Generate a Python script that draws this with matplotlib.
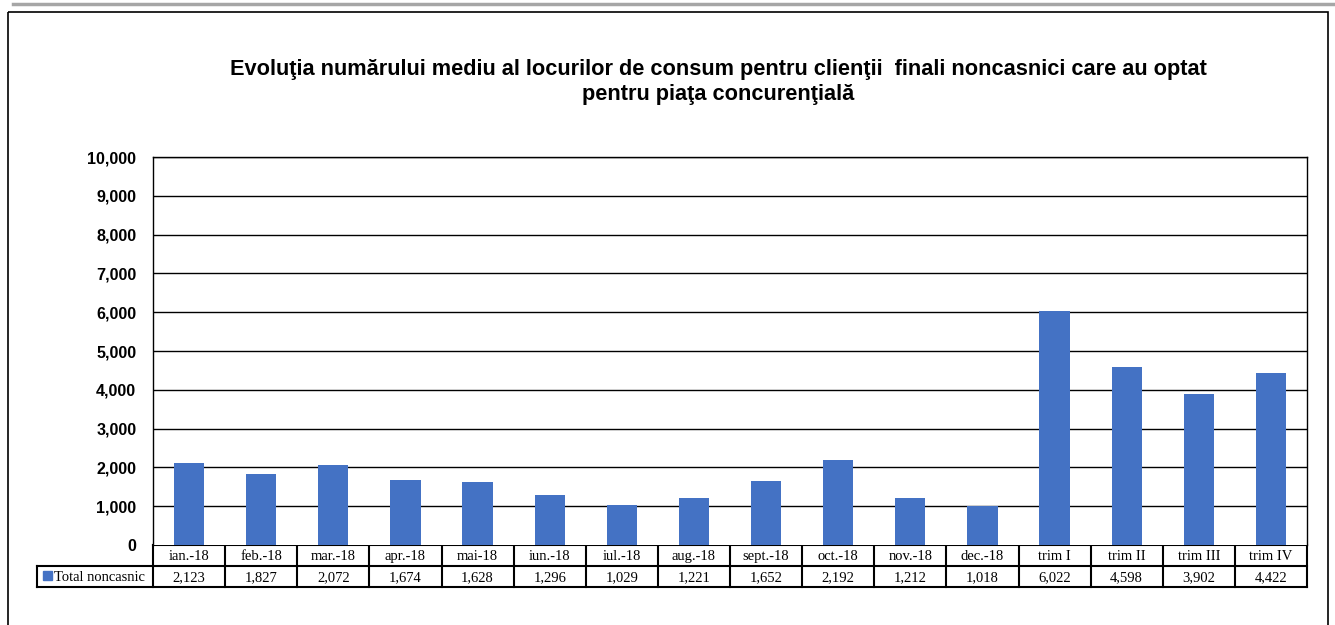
import matplotlib.pyplot as plt
from matplotlib.lines import Line2D
from matplotlib.patches import Rectangle

categories = ['ian.-18', 'feb.-18', 'mar.-18', 'apr.-18', 'mai-18', 'iun.-18',
              'iul.-18', 'aug.-18', 'sept.-18', 'oct.-18', 'nov.-18', 'dec.-18',
              'trim I', 'trim II', 'trim III', 'trim IV']
values = [2123, 1827, 2072, 1674, 1628, 1296, 1029, 1221, 1652, 2192,
          1212, 1018, 6022, 4598, 3902, 4422]
series_name = 'Total noncasnic'
title = ('Evoluţia numărului mediu al locurilor de consum pentru clienţii  finali noncasnici care au optat\n'
         'pentru piaţa concurenţială')
yticks = list(range(0, 10001, 1000))

W, H = 1335, 625
BAR = '#4472C4'

fig = plt.figure(figsize=(W / 100, H / 100), dpi=100)

# overlay in pixel coordinates for frame, title, table
ov = fig.add_axes([0, 0, 1, 1])
ov.set_xlim(0, W)
ov.set_ylim(H, 0)
ov.axis('off')

# plot area in pixels
L, R, T, B = 153, 1307, 157, 545
ax = fig.add_axes([L / W, 1 - B / H, (R - L) / W, (B - T) / H])
n = len(categories)
x = list(range(n))
ax.bar(x, values, width=0.42, color=BAR, zorder=3)
ax.set_xlim(-0.5, n - 0.5)
ax.set_ylim(0, 10000)
ax.set_yticks(yticks)
ax.set_yticklabels([f'{v:,}' for v in yticks], fontfamily='Liberation Sans',
                   fontweight='bold', fontsize=11.6)
ax.tick_params(axis='y', length=0, pad=12)
ax.set_xticks([])
for v in yticks[1:]:
    ax.axhline(v, color='black', lw=1.0, zorder=1)
for side in ['left', 'right', 'top']:
    ax.spines[side].set_linewidth(1.0)
ax.spines['bottom'].set_visible(False)

# outer frame and top rule
ov.add_line(Line2D([13, W], [3.5, 3.5], color='#a6a6a6', lw=2.5))
ov.add_patch(Rectangle((8, 12), 1320, 700, fill=False, ec='black', lw=1.2))

ov.text(718, 82, title, ha='center', va='center', fontfamily='Liberation Sans',
        fontweight='bold', fontsize=15.7, linespacing=1.22)

# data table
cw = (R - L) / n
r0, r1, r2 = 545, 566, 587
tl = 1.5
ov.add_line(Line2D([L, R], [r0, r0], color='black', lw=tl))
ov.add_line(Line2D([37, R], [r1, r1], color='black', lw=tl))
ov.add_line(Line2D([37, R], [r2, r2], color='black', lw=tl))
ov.add_line(Line2D([37, 37], [r1, r2], color='black', lw=tl))
for i in range(n + 1):
    xi = L + i * cw
    ov.add_line(Line2D([xi, xi], [r0, r2], color='black', lw=tl))
for i, (c, v) in enumerate(zip(categories, values)):
    xc = L + (i + 0.5) * cw
    ov.text(xc, (r0 + r1) / 2 + 1, c, ha='center', va='center',
            fontfamily='Liberation Serif', fontsize=10.5)
    ov.text(xc, (r1 + r2) / 2 + 1, f'{v:,}', ha='center', va='center',
            fontfamily='Liberation Serif', fontsize=10.5)
ov.add_patch(Rectangle((43, 571), 9, 9, color=BAR))
ov.text(54, (r1 + r2) / 2 + 1, series_name, ha='left', va='center',
        fontfamily='Liberation Serif', fontsize=10.5)

fig.savefig('out.png', dpi=100)
